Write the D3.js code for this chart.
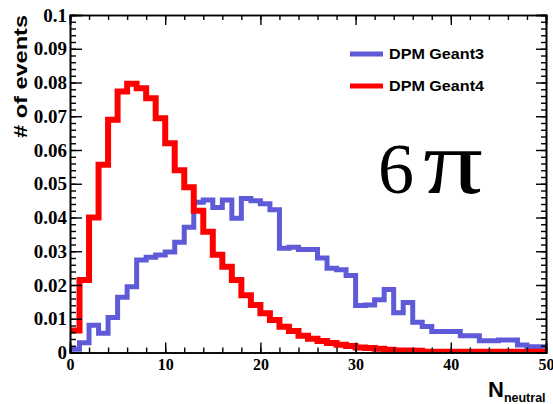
<!DOCTYPE html>
<meta charset="utf-8">
<script src="https://d3js.org/d3.v7.min.js"></script>
<style>
  body { margin: 0; background: #fff; }
</style>
<div id="my_dataviz"></div>
<script>

// number of neutrals, one value per bin of width 1, bins 0..49
var geant3 = [
  0.0010, 0.0029, 0.0081, 0.0057, 0.0104, 0.0164, 0.0195, 0.0274, 0.0282, 0.0289,
  0.0298, 0.0327, 0.0371, 0.0445, 0.0452, 0.0430, 0.0452, 0.0398, 0.0456, 0.0450,
  0.0441, 0.0423, 0.0309, 0.0312, 0.0305, 0.0305, 0.0280, 0.0250, 0.0245, 0.0228,
  0.0139, 0.0141, 0.0156, 0.0187, 0.0118, 0.0148, 0.0090, 0.0077, 0.0062, 0.0062,
  0.0062, 0.0050, 0.0050, 0.0035, 0.0035, 0.0037, 0.0037, 0.0022, 0.0017, 0.0017
];
var geant4 = [
  0.0065, 0.0215, 0.0400, 0.0556, 0.0690, 0.0773, 0.0796, 0.0783, 0.0753, 0.0694,
  0.0620, 0.0540, 0.0490, 0.0420, 0.0358, 0.0290, 0.0254, 0.0215, 0.0170, 0.0141,
  0.0116, 0.0096, 0.0076, 0.0064, 0.0050, 0.0041, 0.0034, 0.0028, 0.0023, 0.0019,
  0.0015, 0.0013, 0.0011, 0.0008, 0.0006, 0.0006, 0.0005, 0.0002, 0.0002, 0.0002,
  0.0002, 0.0002, 0.0002, 0.0002, 0.0002, 0.0002, 0.0002, 0.0002, 0.0002, 0.0002
];
var seriesNames = ["DPM Geant3", "DPM Geant4"];
var xMajor = [0, 10, 20, 30, 40, 50];
var xMinor = d3.range(0, 51, 2);
var yMajor = [0, 0.01, 0.02, 0.03, 0.04, 0.05, 0.06, 0.07, 0.08, 0.09, 0.1];
var yMinor = d3.range(0, 51).map(function(i) { return i * 0.002; });

var W = 553, H = 404;
var frame = {left: 70, right: 546, top: 15, bottom: 352.5};

var svg = d3.select("#my_dataviz")
  .append("svg")
    .attr("width", W)
    .attr("height", H);

var x = d3.scaleLinear().domain([0, 50]).range([frame.left, frame.right]);
var y = d3.scaleLinear().domain([0, 0.1]).range([frame.bottom, frame.top]);

svg.append("clipPath").attr("id", "clip")
  .append("rect")
    .attr("x", frame.left).attr("y", frame.top - 5)
    .attr("width", frame.right - frame.left)
    .attr("height", frame.bottom - frame.top + 5);

// histograms as step lines
var step = d3.line()
  .x(function(d) { return x(d[0]); })
  .y(function(d) { return y(d[1]); })
  .curve(d3.curveStepAfter);

function pts(vals) {
  var p = vals.map(function(v, i) { return [i, v]; });
  p.push([vals.length, vals[vals.length - 1]]);
  return p;
}

var colors = ["#5f5ad8", "#ff0000"];
var widths = [5, 6];

svg.append("g").attr("clip-path", "url(#clip)")
  .selectAll("path")
  .data([geant3, geant4])
  .enter().append("path")
    .attr("d", function(d) { return step(pts(d)); })
    .attr("fill", "none")
    .attr("stroke", function(d, i) { return colors[i]; })
    .attr("stroke-width", function(d, i) { return widths[i]; });

// axes, ROOT style ticks pointing inwards
var g = svg.append("g").attr("class", "axes");

g.append("g").attr("transform", "translate(0," + frame.bottom + ")")
  .call(d3.axisBottom(x).tickValues(xMinor).tickSize(-5).tickFormat(""));
g.append("g").attr("transform", "translate(0," + frame.bottom + ")")
  .call(d3.axisBottom(x).tickValues(xMajor).tickSize(-10).tickPadding(6)
    .tickFormat(d3.format("d")));
g.append("g").attr("transform", "translate(0," + frame.top + ")")
  .call(d3.axisTop(x).tickValues(xMinor).tickSize(-5).tickFormat(""));
g.append("g").attr("transform", "translate(0," + frame.top + ")")
  .call(d3.axisTop(x).tickValues(xMajor).tickSize(-10).tickFormat(""));

g.append("g").attr("transform", "translate(" + frame.left + ",0)")
  .call(d3.axisLeft(y).tickValues(yMinor).tickSize(-6).tickFormat(""));
g.append("g").attr("class", "ylab").attr("transform", "translate(" + frame.left + ",0)")
  .call(d3.axisLeft(y).tickValues(yMajor).tickSize(-12).tickPadding(3)
    .tickFormat(function(d) { return d === 0 ? "0" : d3.format(".2~f")(d); }));
g.append("g").attr("transform", "translate(" + frame.right + ",0)")
  .call(d3.axisRight(y).tickValues(yMinor).tickSize(-5).tickFormat(""));
g.append("g").attr("transform", "translate(" + frame.right + ",0)")
  .call(d3.axisRight(y).tickValues(yMajor).tickSize(-10).tickFormat(""));

g.selectAll(".domain").attr("stroke", "#000").attr("stroke-width", 1.6);
g.selectAll(".tick line").attr("stroke", "#000").attr("stroke-width", 1.4);
g.selectAll(".tick text")
  .attr("fill", "#000")
  .style("font-family", "'Liberation Serif', serif")
  .style("font-weight", "bold")
  .style("font-size", "16px");
g.selectAll(".ylab .tick text").style("font-size", "19px");

// axis titles
svg.append("text")
  .attr("transform", "translate(27," + frame.top + ") rotate(-90)")
  .attr("text-anchor", "end")
  .attr("textLength", 123)
  .attr("lengthAdjust", "spacingAndGlyphs")
  .style("font-family", "'Liberation Sans', Arial, sans-serif")
  .style("font-weight", "bold")
  .style("font-size", "19px")
  .text("# of events");

var xt = svg.append("text")
  .attr("x", 488).attr("y", 397)
  .style("font-family", "'Liberation Sans', Arial, sans-serif")
  .style("font-weight", "bold")
  .style("font-size", "22px");
xt.append("tspan").text("N");
xt.append("tspan").attr("dy", 5).style("font-size", "12.5px").text("neutral");

// legend
var leg = svg.append("g");
seriesNames.forEach(function(name, i) {
  var ly = 54 + i * 32;
  leg.append("line")
    .attr("x1", 350).attr("x2", 383)
    .attr("y1", ly).attr("y2", ly)
    .attr("stroke", colors[i]).attr("stroke-width", 5);
  leg.append("text")
    .attr("x", 389).attr("y", ly + 5)
    .attr("textLength", 95)
    .attr("lengthAdjust", "spacingAndGlyphs")
    .style("font-family", "'Liberation Sans', Arial, sans-serif")
    .style("font-weight", "bold")
    .style("font-size", "14px")
    .text(name);
});

// big label
svg.append("text")
  .attr("x", 378).attr("y", 193)
  .style("font-family", "'Liberation Serif', serif")
  .style("font-size", "72px")
  .text("6");
svg.append("text")
  .attr("x", 423).attr("y", 193)
  .attr("textLength", 60)
  .attr("lengthAdjust", "spacingAndGlyphs")
  .style("font-family", "'Liberation Serif', serif")
  .style("font-size", "90px")
  .text("π");

</script>
